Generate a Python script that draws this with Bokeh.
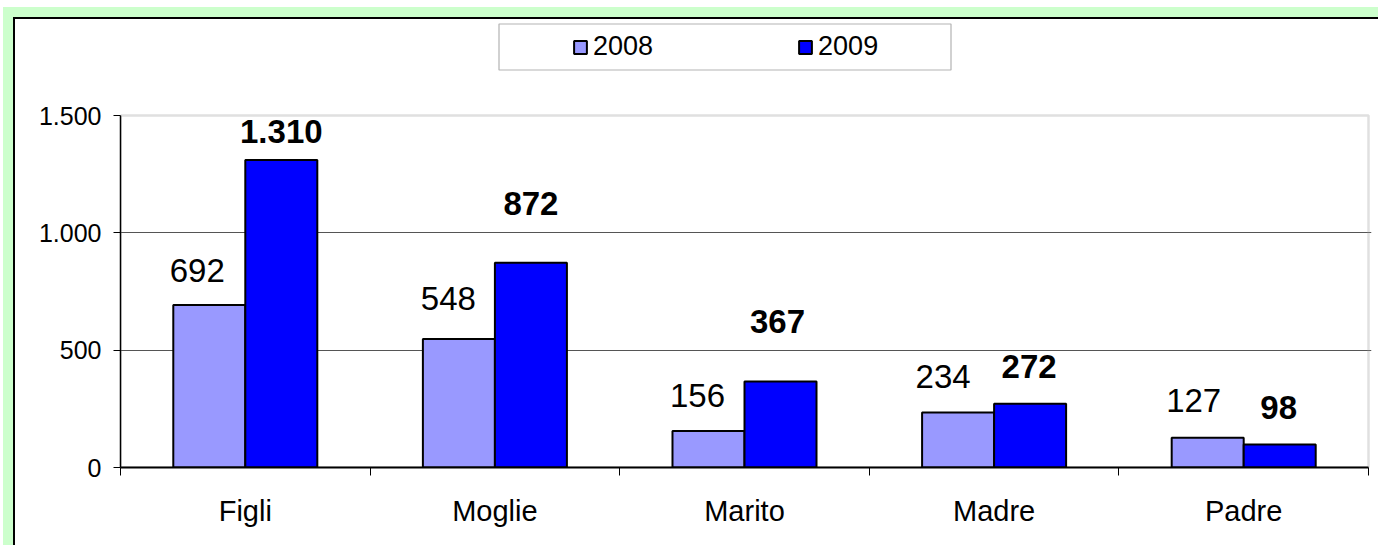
from bokeh.plotting import figure
from bokeh.layouts import column
from bokeh.models import (Range1d, FixedTicker, ColumnDataSource, Legend, LegendItem,
                          BoxAnnotation)
from bokeh.transform import dodge
from bokeh.core.properties import value
from bokeh.embed import file_html
from bokeh.resources import INLINE

# ---------------- data ----------------
categories = ["Figli", "Moglie", "Marito", "Madre", "Padre"]
values_2008 = [692, 548, 156, 234, 127]
values_2009 = [1310, 872, 367, 272, 98]
series_names = ["2008", "2009"]
y_ticks = [0, 500, 1000, 1500]
y_tick_labels = ["0", "500", "1.000", "1.500"]

# label nudges in px (labels were moved by hand in the original)
dx_2008 = [-12, -10.5, -11, -15, -14]
dy_2008 = [-35, -40, -35.7, -35.8, -37.5]
dx_2009 = [0, 0, -3, -1, -1]
dy_2009 = [-28.3, -59.4, -59.6, -36.9, -36.7]


def it_num(v):
    return f"{v:,}".replace(",", ".")


FONT = "Liberation Sans"
W, H = 1363, 526          # figure placed at window (15, 19)
FRAME_L, FRAME_B = 120, 467            # window px of plot-area left / bottom
PX_PER_CAT = 249.6
PX_PER_UNIT_Y = 352 / 1500
Y_MAX = 1500
BAR_W = 0.2885
OFF = BAR_W / 2


def xd(px):
    return (px - FRAME_L) / PX_PER_CAT


def yd(py):
    return (FRAME_B - py) / PX_PER_UNIT_Y


src = ColumnDataSource(dict(
    x=[i + 0.5 for i in range(len(categories))],
    v08=values_2008, v09=values_2009,
    t08=[it_num(v) for v in values_2008], t09=[it_num(v) for v in values_2009],
    dx08=dx_2008, dy08=dy_2008, dx09=dx_2009, dy09=dy_2009,
))

p = figure(width=W, height=H, output_backend="svg", toolbar_location=None, title=None,
           x_range=Range1d(0, xd(1371)), y_range=Range1d(0, yd(19)),
           min_border_left=105, min_border_right=7, min_border_top=0, min_border_bottom=78,
           border_fill_color="white", background_fill_color="white")
p.outline_line_color = None

# plot-area border (grey top / right edges) and legend box
p.add_layout(BoxAnnotation(left=0, right=len(categories), bottom=0, top=Y_MAX,
                           fill_color=None, line_color="#999999", line_width=2.5,
                           level="underlay"))
p.add_layout(BoxAnnotation(left=xd(498.5), right=xd(950.5), top=yd(23.5), bottom=yd(69.5),
                           fill_color="white", fill_alpha=1, line_color="black",
                           line_width=1.2, level="underlay"))

r1 = p.vbar(x=dodge('x', -OFF), top='v08', width=BAR_W, source=src,
            fill_color="#9999ff", line_color="black", line_width=2)
r2 = p.vbar(x=dodge('x', OFF), top='v09', width=BAR_W, source=src,
            fill_color="#0000ff", line_color="black", line_width=2)

p.text(x=dodge('x', -OFF), y='v08', text='t08', x_offset='dx08', y_offset='dy08',
       text_align='center', text_baseline='alphabetic', text_font=value(FONT),
       text_font_size='33px', text_color='black', source=src)
p.text(x=dodge('x', OFF), y='v09', text='t09', x_offset='dx09', y_offset='dy09',
       text_align='center', text_baseline='alphabetic', text_font=value(FONT),
       text_font_size='33px', text_font_style='bold', text_color='black', source=src)

# axes
p.yaxis.ticker = FixedTicker(ticks=y_ticks)
p.yaxis.bounds = (0, Y_MAX)
p.yaxis.major_label_overrides = {t: l for t, l in zip(y_ticks, y_tick_labels)}
p.yaxis.major_tick_out = 7
p.yaxis.major_tick_in = 0
p.yaxis.minor_tick_line_color = None
p.yaxis.axis_line_color = "black"
p.yaxis.axis_line_width = 1.5
p.yaxis.major_tick_line_color = "black"
p.yaxis.major_label_text_font = FONT
p.yaxis.major_label_text_font_size = "25px"
p.yaxis.major_label_text_color = "black"
p.yaxis.major_label_standoff = 12

xt = [i + 0.5 for i in range(len(categories))]
p.xaxis.ticker = FixedTicker(ticks=xt, minor_ticks=list(range(len(categories) + 1)))
p.xaxis.bounds = (0, len(categories))
p.xaxis.major_label_overrides = {t: c for t, c in zip(xt, categories)}
p.xaxis.major_tick_out = 0
p.xaxis.major_tick_in = 0
p.xaxis.minor_tick_out = 8
p.xaxis.minor_tick_in = 0
p.xaxis.minor_tick_line_color = "black"
p.xaxis.axis_line_color = "black"
p.xaxis.axis_line_width = 2
p.xaxis.major_label_text_font = FONT
p.xaxis.major_label_text_font_size = "29px"
p.xaxis.major_label_text_color = "black"
p.xaxis.major_label_standoff = 19

p.xgrid.visible = False
p.ygrid.ticker = FixedTicker(ticks=[500, 1000])
p.ygrid.grid_line_color = "#555555"
p.ygrid.grid_line_width = 1

legend = Legend(items=[LegendItem(label=series_names[0], renderers=[r1]),
                       LegendItem(label=series_names[1], renderers=[r2])],
                orientation="horizontal", location=(572 - FRAME_L, FRAME_B - 62),
                padding=0, spacing=144,
                glyph_width=16, glyph_height=16, label_standoff=5,
                label_text_font=FONT, label_text_font_size="27px", label_text_color="black",
                border_line_alpha=0, background_fill_alpha=0, margin=0)
p.add_layout(legend, "center")

inner = column(p, styles={"background-color": "white",
                          "border-top": "2px solid black",
                          "border-left": "2px solid black"})
outer = column(inner, styles={"background-color": "#ccffcc", "padding-top": "10px",
                              "padding-left": "10px"}, margin=(7, 0, 0, 3))

open("out.html", "w").write(file_html(outer, INLINE))
